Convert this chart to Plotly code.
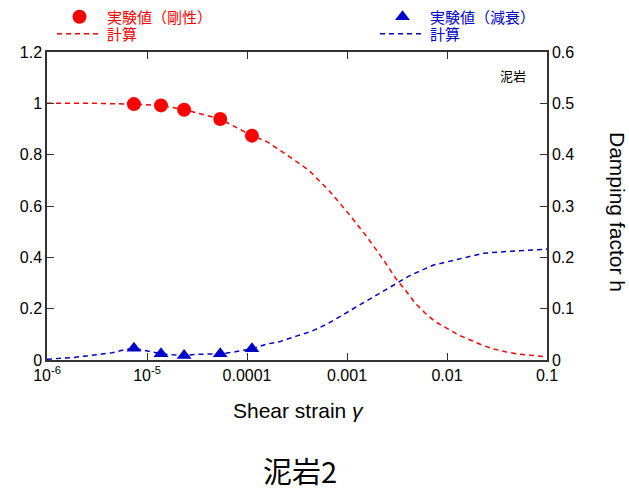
import plotly.graph_objects as go

# ---- data ----
strain_exp = [7.4e-6, 1.38e-5, 2.35e-5, 5.4e-5, 1.12e-4]
g_exp = [0.997, 0.992, 0.975, 0.939, 0.874]
h_exp = [0.023, 0.012, 0.009, 0.012, 0.022]

strain_g_calc = [1e-6, 3e-6, 7.4e-6, 1.38e-5, 2.35e-5, 5.4e-5, 1.12e-4, 1.58e-4, 2.51e-4,
                 4.13e-4, 6.55e-4, 1e-3, 1.58e-3, 2.32e-3, 3.16e-3, 3.83e-3, 4.82e-3, 6.07e-3,
                 7.64e-3, 1e-2, 1.31e-2, 1.71e-2, 2.24e-2, 2.93e-2, 3.83e-2, 5.21e-2, 6.81e-2,
                 8.91e-2, 1e-1]
g_calc = [1.0, 1.0, 0.997, 0.992, 0.975, 0.939, 0.874, 0.851, 0.799,
          0.740, 0.662, 0.578, 0.480, 0.390, 0.311, 0.273, 0.221, 0.182,
          0.149, 0.123, 0.097, 0.078, 0.058, 0.043, 0.032, 0.023, 0.018,
          0.013, 0.012]

strain_h_calc = [1e-6, 1.36e-6, 1.85e-6, 2.51e-6, 3.41e-6, 4.47e-6, 5.62e-6, 7.4e-6, 1.16e-5,
                 1.38e-5, 1.83e-5, 2.35e-5, 3.16e-5, 5.4e-5, 7.64e-5, 1.12e-4, 1.58e-4, 2.15e-4,
                 3.16e-4, 4.3e-4, 6.31e-4, 1.08e-3, 1.85e-3, 2.92e-3, 4.3e-3, 7.35e-3, 1.26e-2,
                 2.32e-2, 4.3e-2, 1e-1]
h_calc = [0.0015, 0.003, 0.005, 0.008, 0.011, 0.014, 0.019, 0.023, 0.015,
          0.012, 0.010, 0.009, 0.011, 0.012, 0.016, 0.022, 0.031, 0.036,
          0.047, 0.055, 0.070, 0.097, 0.123, 0.146, 0.165, 0.185, 0.196,
          0.208, 0.212, 0.216]

x_tickvals = [1e-6, 1e-5, 1e-4, 1e-3, 1e-2, 1e-1]
x_ticktext = ["10<sup>-6</sup>", "10<sup>-5</sup>", "0.0001", "0.001", "0.01", "0.1"]

RED = "#ff0000"
BLUE = "#0000cc"
AX = "#333333"
LAT = "Liberation Sans, Arial, sans-serif"
TICKFONT = dict(family=LAT, size=16, color="black")
JP = "Noto Sans CJK JP"
W, H = 629, 495
L, T, PW, PH = 47, 52, 500, 308
R, B = W - L - PW, H - T - PH


def px_x(x):   # page px -> paper fraction
    return (x - L) / PW


def px_y(y):
    return (T + PH - y) / PH


def cont_x(x):
    return x / W


def cont_y(y):
    return 1 - y / H


def leg(x, y, color):
    return dict(xref="container", yref="container", x=cont_x(x), y=cont_y(y),
                xanchor="left", yanchor="middle", itemwidth=45, tracegroupgap=0,
                bgcolor="rgba(0,0,0,0)", borderwidth=0, visible=True,
                font=dict(family=JP, size=15, color=color))


fig = go.Figure()
fig.add_trace(go.Scatter(x=strain_exp, y=g_exp, mode="markers", name="実験値（剛性）",
                         marker=dict(symbol="circle", size=14, color=RED), legend="legend"))
fig.add_trace(go.Scatter(x=strain_g_calc, y=g_calc, mode="lines", name="計算",
                         line=dict(color=RED, width=1.5, dash="5px,4px"), legend="legend2"))
fig.add_trace(go.Scatter(x=strain_h_calc, y=h_calc, mode="lines", name="計算", yaxis="y2",
                         line=dict(color=BLUE, width=1.5, dash="5px,4px"), legend="legend4"))
fig.add_trace(go.Scatter(x=strain_exp, y=h_exp, mode="markers", name="実験値（減衰）", yaxis="y2",
                         marker=dict(symbol="triangle-up", size=13, color=BLUE), legend="legend3"))

fig.update_layout(
    width=W, height=H, showlegend=True,
    margin=dict(l=L, r=R, t=T, b=B, autoexpand=False),
    plot_bgcolor="white", paper_bgcolor="white",
    xaxis=dict(type="log", range=[-6, -1], tickvals=x_tickvals, ticktext=x_ticktext,
               ticks="inside", ticklen=7, tickcolor=AX, showline=True, linecolor=AX, linewidth=1.5,
               mirror="ticks", showgrid=False, zeroline=False, tickfont=TICKFONT, tickangle=0),
    yaxis=dict(range=[0, 1.2], dtick=0.2, ticks="inside", ticklen=7, tickcolor=AX,
               showline=True, linecolor=AX, linewidth=1.5, showgrid=False, zeroline=False,
               tickfont=TICKFONT),
    yaxis2=dict(range=[0, 0.6], dtick=0.1, overlaying="y", side="right", ticks="inside",
                ticklen=7, tickcolor=AX, showline=True, linecolor=AX, linewidth=1.5,
                showgrid=False, zeroline=False, tickfont=TICKFONT),
    legend=leg(52, 17, RED),
    legend2=leg(52, 34, RED),
    legend3=leg(375, 17, BLUE),
    legend4=leg(375, 34, BLUE),
    annotations=[
        dict(text="Shear strain <i>γ</i>", xref="paper", yref="paper", x=px_x(298), y=px_y(410),
             xanchor="center", yanchor="middle", showarrow=False,
             font=dict(family=LAT, size=21, color="black")),
        dict(text="泥岩", xref="paper", yref="paper", x=px_x(513), y=px_y(75),
             xanchor="center", yanchor="middle",
             showarrow=False, font=dict(family=JP, size=13, color="black")),
        dict(text="Damping factor h", xref="paper", yref="paper", x=px_x(617), y=px_y(212),
             xanchor="center", yanchor="middle", showarrow=False, textangle=90,
             font=dict(family=LAT, size=21, color="black")),
        dict(text="泥岩2", xref="paper", yref="paper", x=px_x(300), y=px_y(470),
             xanchor="center", yanchor="middle",
             showarrow=False, font=dict(family=JP, size=29, color="black")),
    ],
)

fig.write_html("out.html", config={"displayModeBar": False},
               post_script="document.body.style.margin='0';document.body.style.overflow='hidden';")
